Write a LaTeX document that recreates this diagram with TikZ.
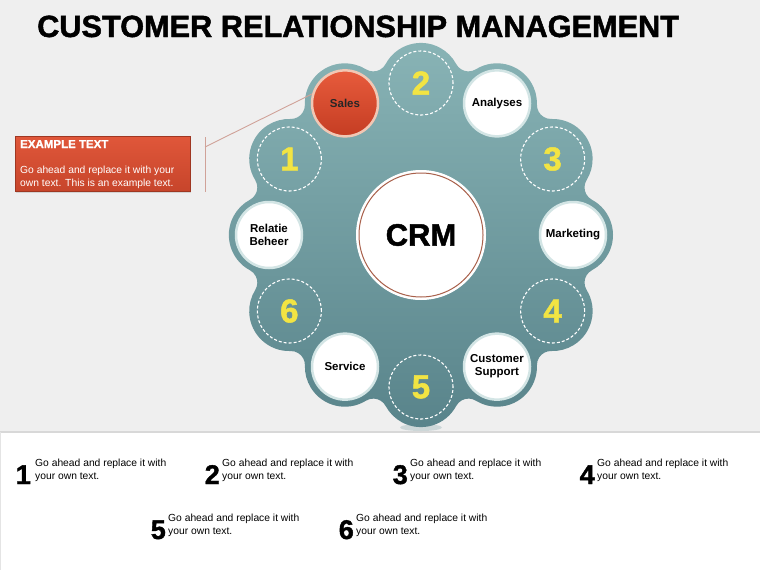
\documentclass[tikz,border=0pt]{standalone}
\usepackage{fontspec}
\setmainfont{Liberation Sans}
\newfontfamily\heavyfont[BoldFeatures={FakeBold=1.5}]{Liberation Sans}
\usetikzlibrary{calc,shadows}
\definecolor{bg}{HTML}{EFEFEF}
\definecolor{tealtop}{HTML}{89B4B6}
\definecolor{tealbot}{HTML}{58838A}
\definecolor{ringc}{HTML}{D3E5E5}
\definecolor{salestop}{HTML}{E75B3C}
\definecolor{salesbot}{HTML}{C53D23}
\definecolor{salesring}{HTML}{F2C7B4}
\definecolor{numyellow}{HTML}{F2E443}
\definecolor{crmring}{HTML}{A8604A}
\definecolor{callouttop}{HTML}{E0573A}
\definecolor{calloutbot}{HTML}{C7452B}
\definecolor{leader}{HTML}{D0A298}
\definecolor{sepline}{HTML}{D8D8D8}
\begin{document}
\begin{tikzpicture}[x=1pt,y=-1pt,
  labcirc/.style={circle, minimum size=66pt, inner sep=0pt, fill=white, draw=ringc, line width=2.5pt,
    font=\bfseries\fontsize{11.5}{13}\selectfont, text=black, align=center},
  salescirc/.style={labcirc, draw=salesring, top color=salestop, bottom color=salesbot, text=black!85},
  numcirc/.style={circle, minimum size=64pt, inner sep=0pt, draw=white, line width=1.1pt,
    dash pattern=on 3pt off 2pt, text=numyellow, font=\heavyfont\bfseries\fontsize{33}{36}\selectfont},
  crmcirc/.style={circle, minimum size=129pt, inner sep=0pt, fill=white, draw=white, line width=1pt,
    font=\heavyfont\bfseries\fontsize{31}{34}\selectfont},
  calloutbox/.style={rectangle, minimum width=175pt, minimum height=55pt, inner sep=0pt,
    top color=callouttop, bottom color=calloutbot, draw=calloutbot!80!black, line width=0.3pt,
    drop shadow={opacity=0.25, shadow xshift=1pt, shadow yshift=-1.5pt}},
  ctext/.style={anchor=base west, inner sep=0pt, text=white},
  bignum/.style={anchor=base east, inner sep=0pt, font=\heavyfont\bfseries\fontsize{27}{30}\selectfont},
  itemtxt/.style={anchor=base west, inner sep=0pt, align=left, font=\fontsize{10.3}{12.3}\selectfont},
  leaderline/.style={leader, line width=0.9pt}
]
\useasboundingbox (0,0) rectangle (760,570);
\fill[bg] (0,0) rectangle (760,432);
\fill[white] (0,432) rectangle (760,570);
\draw[sepline, line width=2pt] (0,431.5) -- (760,431.5);
\draw[sepline!70, line width=1pt] (0.5,432) -- (0.5,570);

% title
\node[anchor=base west, inner sep=0pt, font=\heavyfont\bfseries\fontsize{30.7}{34}\selectfont] (title) at (37,37) {CUSTOMER RELATIONSHIP MANAGEMENT};

% wheel
\coordinate (O) at (421,235);
\fill[tealbot, opacity=0.22] (421,427.5) ellipse [x radius=21, y radius=3.5];
\shade[top color=tealtop, bottom color=tealbot]
  ($(O)+(0:152)+(-61.8:40)$)
  \foreach \t in {0,30,...,330} {
    arc[start angle=\t-61.8, end angle=\t+61.8, radius=40]
    arc[start angle=\t+241.8, end angle=\t+148.2, radius=14]
  } -- cycle;

\node[crmcirc] (crm) at (O) {CRM};
\draw[crmring, line width=1pt] (crm.center) circle[radius=62];

\node[numcirc] (n2) at ($(O)+(-90:152)$) {2};
\node[labcirc] (analyses) at ($(O)+(-60:152)$) {Analyses};
\node[numcirc] (n3) at ($(O)+(-30:152)$) {3};
\node[labcirc] (marketing) at ($(O)+(0:152)$) {Marketing};
\node[numcirc] (n4) at ($(O)+(30:152)$) {4};
\node[labcirc] (support) at ($(O)+(60:152)$) {Customer\\Support};
\node[numcirc] (n5) at ($(O)+(90:152)$) {5};
\node[labcirc] (service) at ($(O)+(120:152)$) {Service};
\node[numcirc] (n6) at ($(O)+(150:152)$) {6};
\node[labcirc] (relatie) at ($(O)+(180:152)$) {Relatie\\Beheer};
\node[numcirc] (n1) at ($(O)+(210:152)$) {1};
\node[salescirc] (sales) at ($(O)+(240:152)$) {Sales};

% callout
\node[calloutbox] (callout) at (102.5,163.5) {};
\node[ctext, font=\heavyfont\bfseries\fontsize{11.5}{13}\selectfont] (ctitle) at (20,148) {EXAMPLE TEXT};
\node[ctext, align=left, font=\fontsize{10.3}{12.3}\selectfont] (cbody) at (20,186) {Go ahead and replace it with your\\own text. This is an example text.};
\coordinate (ltop) at (205,137);
\coordinate (lbot) at (205,192);
\coordinate (lknee) at (205,147);
\draw[leaderline] (ltop) -- (lbot);
\draw[leaderline] (lknee) -- (sales.164);

% bottom items
\node[bignum] (b1) at (31,484) {1};
\node[itemtxt] (t1) at (35,479) {Go ahead and replace it with\\your own text.};
\node[bignum] (b2) at (220,484) {2};
\node[itemtxt] (t2) at (222,479) {Go ahead and replace it with\\your own text.};
\node[bignum] (b3) at (408,484) {3};
\node[itemtxt] (t3) at (410,479) {Go ahead and replace it with\\your own text.};
\node[bignum] (b4) at (595,484) {4};
\node[itemtxt] (t4) at (597,479) {Go ahead and replace it with\\your own text.};
\node[bignum] (b5) at (166,539) {5};
\node[itemtxt] (t5) at (168,534) {Go ahead and replace it with\\your own text.};
\node[bignum] (b6) at (354,539) {6};
\node[itemtxt] (t6) at (356,534) {Go ahead and replace it with\\your own text.};
\end{tikzpicture}
\end{document}
